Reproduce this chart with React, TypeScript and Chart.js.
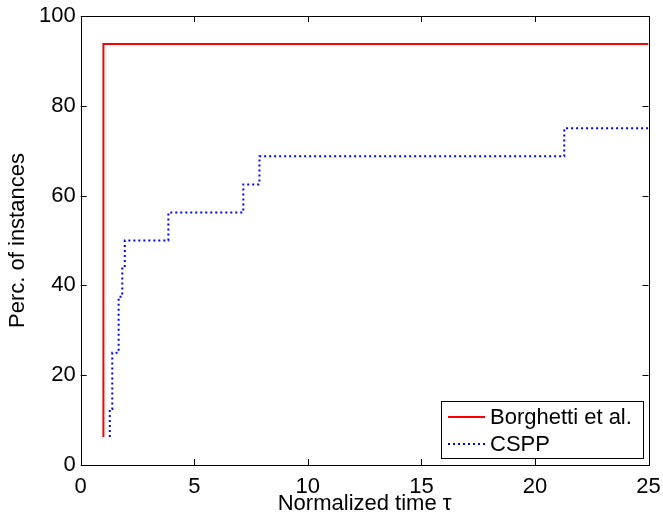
import { useEffect, useRef } from "react";
import { Chart, registerables } from "chart.js";

Chart.register(...registerables);

const borghettiX = [1, 1, 25];
const borghettiY = [6.25, 93.75, 93.75];
const csppX = [1.28, 1.28, 1.39, 1.67, 1.83, 1.94, 3.86, 7.16, 7.87, 21.29, 25];
const csppY = [6.25, 12.5, 25, 37.5, 43.75, 50, 56.25, 62.5, 68.75, 75, 75];
const seriesNames = ["Borghetti et al.", "CSPP"];
const seriesColors = ["#ff0000", "#0000ff"];
const xTicks = [0, 5, 10, 15, 20, 25];
const yTicks = [0, 20, 40, 60, 80, 100];
const xTitle = "Normalized time τ";
const yTitle = "Perc. of instances";

const FONT = "'Liberation Sans', Arial, Helvetica, sans-serif";
const FS = 22;

const boxPlugin = {
  id: "matlabBox",
  afterDatasetsDraw(chart: any) {
    const { ctx, chartArea: a, scales } = chart;
    const xs = scales.x;
    const ys = scales.y;
    ctx.save();
    ctx.strokeStyle = "#000";
    ctx.lineWidth = 1;
    ctx.strokeRect(Math.round(a.left) + 0.5, Math.round(a.top) + 0.5, Math.round(a.right - a.left), Math.round(a.bottom - a.top));
    const tl = 6;
    ctx.beginPath();
    xTicks.forEach((v) => {
      const px = Math.round(xs.getPixelForValue(v)) + 0.5;
      ctx.moveTo(px, a.bottom);
      ctx.lineTo(px, a.bottom - tl);
      ctx.moveTo(px, a.top);
      ctx.lineTo(px, a.top + tl);
    });
    yTicks.forEach((v) => {
      const py = Math.round(ys.getPixelForValue(v)) + 0.5;
      ctx.moveTo(a.left, py);
      ctx.lineTo(a.left + tl, py);
      ctx.moveTo(a.right, py);
      ctx.lineTo(a.right - tl, py);
    });
    ctx.stroke();

    // legend
    const lx0 = 441.5, ly0 = 401.5, lx1 = 643.5, ly1 = 458.5;
    ctx.fillStyle = "#fff";
    ctx.fillRect(lx0, ly0, lx1 - lx0, ly1 - ly0);
    ctx.strokeStyle = "#000";
    ctx.strokeRect(lx0, ly0, lx1 - lx0, ly1 - ly0);
    const rows = [417, 444];
    chart.data.datasets.forEach((ds: any, i: number) => {
      ctx.beginPath();
      ctx.strokeStyle = ds.borderColor;
      ctx.lineWidth = ds.borderWidth;
      ctx.setLineDash(ds.borderDash || []);
      ctx.moveTo(448, rows[i]);
      ctx.lineTo(485, rows[i]);
      ctx.stroke();
      ctx.setLineDash([]);
      ctx.fillStyle = "#000";
      ctx.font = `${FS}px ${FONT}`;
      ctx.textBaseline = "middle";
      ctx.textAlign = "left";
      ctx.fillText(ds.label, 490, rows[i] + 1);
    });
    ctx.restore();
  },
};

export default function App() {
  const ref = useRef<HTMLCanvasElement>(null);
  useEffect(() => {
    document.body.style.margin = "0";
    const canvas = ref.current!;
    const chart = new Chart(canvas, {
      type: "line",
      data: {
        datasets: [
          {
            label: seriesNames[0],
            data: borghettiX.map((x, i) => ({ x, y: borghettiY[i] })),
            borderColor: seriesColors[0],
            borderWidth: 2,
            pointRadius: 0,
            stepped: true,
            fill: false,
          },
          {
            label: seriesNames[1],
            data: csppX.map((x, i) => ({ x, y: csppY[i] })),
            borderColor: seriesColors[1],
            borderWidth: 2,
            borderDash: [2, 3],
            pointRadius: 0,
            stepped: true,
            fill: false,
          },
        ],
      },
      options: {
        animation: false,
        responsive: false,
        layout: { padding: { left: 0, top: 16, right: 14.5, bottom: 0 } },
        plugins: { legend: { display: false }, tooltip: { enabled: false } },
        scales: {
          x: {
            type: "linear",
            min: 0,
            max: 25,
            afterBuildTicks: (s: any) => {
              s.ticks = xTicks.map((v) => ({ value: v }));
            },
            afterFit: (s: any) => {
              s.height = 50;
              s.paddingLeft = 0;
              s.paddingRight = 0;
            },
            grid: { display: false, drawTicks: false },
            border: { display: false },
            ticks: {
              color: "#000",
              font: { family: FONT, size: FS },
              padding: 9,
              maxRotation: 0,
              autoSkip: false,
            },
            title: {
              display: true,
              text: xTitle,
              color: "#000",
              font: { family: FONT, size: FS, lineHeight: 1 },
              padding: { top: 0, bottom: 0 },
            },
          },
          y: {
            type: "linear",
            min: 0,
            max: 100,
            afterBuildTicks: (s: any) => {
              s.ticks = yTicks.map((v) => ({ value: v }));
            },
            afterFit: (s: any) => {
              s.width = 80.7;
              s.paddingTop = 0;
              s.paddingBottom = 0;
            },
            grid: { display: false, drawTicks: false },
            border: { display: false },
            ticks: {
              color: "#000",
              font: { family: FONT, size: FS },
              padding: 5,
              autoSkip: false,
            },
            title: {
              display: true,
              text: yTitle,
              color: "#000",
              font: { family: FONT, size: FS },
              padding: { top: 5, bottom: 0 },
            },
          },
        },
      },
      plugins: [boxPlugin],
    });
    return () => chart.destroy();
  }, []);
  return <canvas ref={ref} width={663} height={515} style={{ display: "block" }} />;
}
